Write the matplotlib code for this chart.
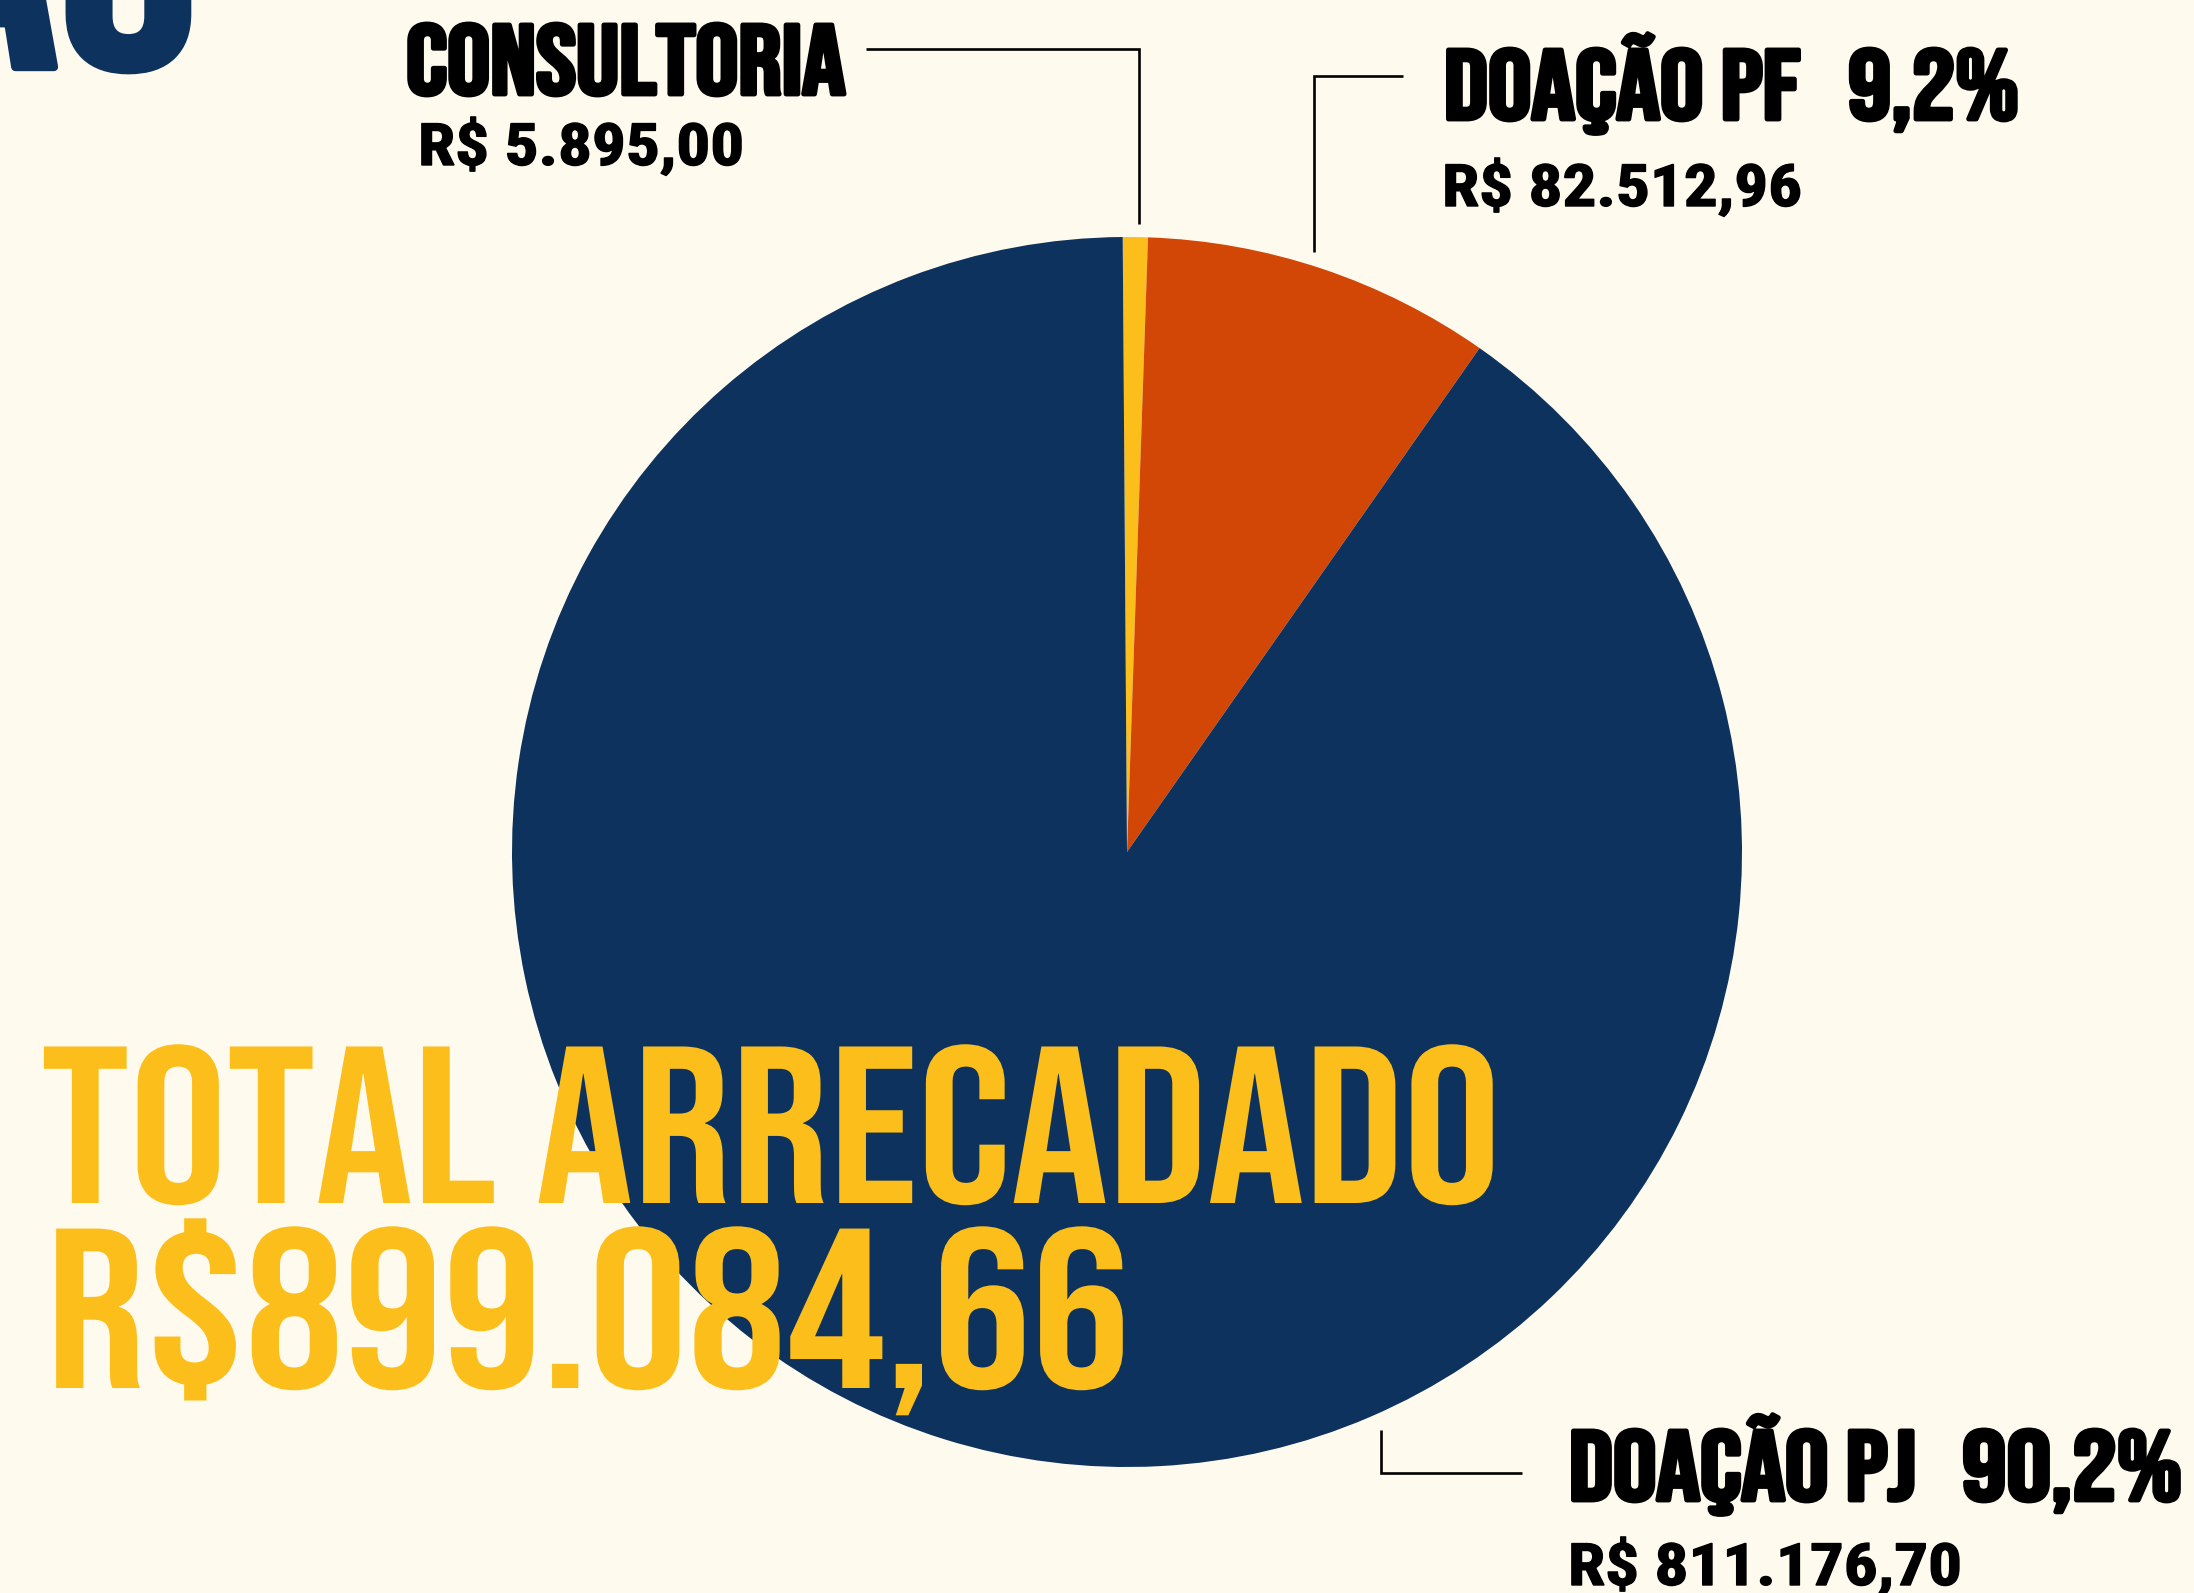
import matplotlib.pyplot as plt
import matplotlib.patheffects as pe
from matplotlib.transforms import Affine2D

# Data
labels = ['CONSULTORIA', 'DOAÇÃO PF', 'DOAÇÃO PJ']
values = [5895.00, 82512.96, 811176.70]
colors = ['#FBBE1B', '#D24606', '#0C325D']
total_title = 'TOTAL ARRECADADO'
total_label = 'R$899.084,66'


def brl(v):
    s = f"{v:,.2f}"
    return 'R$ ' + s.replace(',', 'X').replace('.', ',').replace('X', '.')


def pct(v):
    return f"{100 * v / sum(values):.1f}".replace('.', ',') + '%'


class Widen(pe.AbstractPathEffect):
    """Stretch a text horizontally around its anchor, with an optional outline."""

    def __init__(self, ax, x, sx, stroke=0, color='black'):
        super().__init__()
        self.ax, self.x, self.sx = ax, x, sx
        self.stroke, self.color = stroke, color

    def draw_path(self, renderer, gc, tpath, affine, rgbFace=None):
        x0 = self.ax.transData.transform((self.x, 0))[0]
        t = affine + Affine2D().translate(-x0, 0).scale(self.sx, 1).translate(x0, 0)
        if self.stroke:
            gc0 = renderer.new_gc()
            gc0.copy_properties(gc)
            gc0.set_linewidth(self.stroke)
            gc0.set_foreground(self.color)
            gc0.set_joinstyle('round')
            renderer.draw_path(gc0, tpath, t, rgbFace)
            gc0.restore()
        renderer.draw_path(gc, tpath, t, rgbFace)


W, H = 2194, 1593
BG = '#FFFAEE'
NAVY = '#0C325D'
YELLOW = '#FBBE1B'
DISPLAY = ['Bebas Neue', 'DejaVu Sans']
SMALL = ['Roboto Condensed', 'DejaVu Sans']

fig = plt.figure(figsize=(W / 100, H / 100), dpi=100, facecolor=BG)
ax = fig.add_axes([0, 0, 1, 1])
ax.set_facecolor(BG)

# pie, drawn in pixel coordinates (y measured up from the bottom)
cx, cy, r = 1127, H - 852, 615
ax.pie(values, colors=colors, startangle=90.4, counterclock=False,
       center=(cx, cy), radius=r, wedgeprops=dict(linewidth=0))
ax.set_xlim(0, W)
ax.set_ylim(0, H)
ax.set_aspect('equal')
ax.axis('off')


def label(x, y, s, size, family, sx, stroke=0, color='black', ha='left', **kw):
    ax.text(x, y, s, fontsize=size, family=family, color=color, ha=ha,
            va='baseline', path_effects=[Widen(ax, x, sx, stroke, color)], **kw)


# cropped title at the top-left corner
label(199, H - 67, 'ARRECADAÇÃO', 230, DISPLAY, 1.1, stroke=6, color=NAVY, ha='right')

# leader lines
lk = dict(color='black', lw=1.9, solid_capstyle='butt', solid_joinstyle='miter')
ax.plot([866, 1139, 1139], [H - 49, H - 49, H - 224], **lk)
ax.plot([1403, 1314, 1314], [H - 76, H - 76, H - 252], **lk)
ax.plot([1381, 1381, 1522], [H - 1430, H - 1473, H - 1473], **lk)

# labels
HS, VS = 1.09, 1.15
label(406, H - 94, labels[0], 71, DISPLAY, HS, stroke=3.5)
label(418, H - 165, brl(values[0]), 42, SMALL, VS, stroke=1, fontweight='bold')

label(1444, H - 119, labels[1], 71, DISPLAY, 1.1, stroke=3.5)
label(1848, H - 119, pct(values[1]), 71, DISPLAY, 1.1, stroke=3.5)
label(1442, H - 206, brl(values[1]), 42, SMALL, VS, stroke=1, fontweight='bold')

label(1569, H - 1500, labels[2], 71, DISPLAY, 1.1, stroke=3.5)
label(1962, H - 1500, pct(values[2]), 71, DISPLAY, 1.13, stroke=3.5)
label(1568, H - 1585, brl(values[2]), 42, SMALL, VS, stroke=1, fontweight='bold')

# total
label(41, H - 1203, total_title, 161, DISPLAY, 1.088, color=YELLOW)
label(46, H - 1388, total_label, 164, DISPLAY, 1.087, color=YELLOW)

fig.savefig('out.png', dpi=100, facecolor=BG)
